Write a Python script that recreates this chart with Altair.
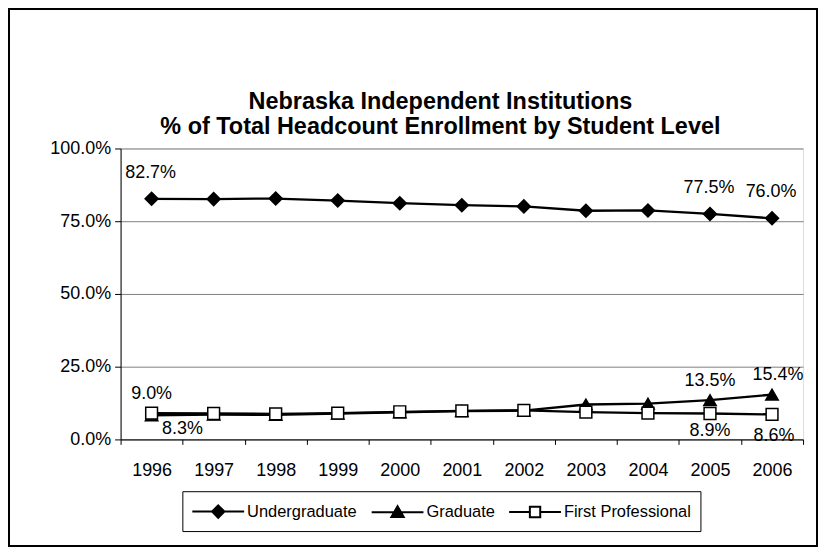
import altair as alt
import pandas as pd

years = ["1996", "1997", "1998", "1999", "2000", "2001", "2002", "2003", "2004", "2005", "2006"]
series_names = ["Undergraduate", "Graduate", "First Professional"]
undergraduate = [82.7, 82.6, 82.8, 82.1, 81.2, 80.5, 80.1, 78.6, 78.7, 77.5, 76.0]
graduate = [8.3, 8.5, 8.4, 8.9, 9.3, 9.7, 9.9, 12.0, 12.3, 13.5, 15.4]
first_professional = [9.0, 8.9, 8.8, 9.0, 9.5, 9.8, 10.0, 9.4, 9.0, 8.9, 8.6]
y_ticks = [0.0, 0.25, 0.5, 0.75, 1.0]

title_lines = ["Nebraska Independent Institutions",
               "% of Total Headcount Enrollment by Student Level"]

# which points carry a data label, grouped by where the label sits
labels_above = [("Undergraduate", "1996"), ("Undergraduate", "2005"), ("Undergraduate", "2006")]
labels_above_near = [("Graduate", "2005"), ("First Professional", "1996")]
labels_above_near_right = [("Graduate", "2006")]
labels_below = [("First Professional", "2005")]
labels_below_far = [("First Professional", "2006")]
labels_below_right = [("Graduate", "1996")]

FONT = "Liberation Sans"
FS = 18

placements = [("above", labels_above), ("above_near", labels_above_near),
              ("above_near_right", labels_above_near_right), ("below", labels_below),
              ("below_far", labels_below_far), ("below_right", labels_below_right)]

rows = []
for name, vals in zip(series_names, [undergraduate, graduate, first_professional]):
    for yr, v in zip(years, vals):
        place = "none"
        for pname, plist in placements:
            if (name, yr) in plist:
                place = pname
        rows.append({"series": name, "year": yr, "value": v / 100.0,
                     "label": f"{v:.1f}%", "place": place})
df = pd.DataFrame(rows)

W, H = 685, 292

x_enc = alt.X("year:N", sort=years,
              scale=alt.Scale(type="band", paddingInner=0, paddingOuter=0),
              axis=alt.Axis(title=None, tickBand="extent", labelAngle=0,
                            labelFont=FONT, labelFontSize=FS, labelColor="black",
                            domainColor="black", tickColor="black", tickSize=5,
                            labelPadding=17, grid=False))
y_enc = alt.Y("value:Q", scale=alt.Scale(domain=[0, 1], nice=False),
              axis=alt.Axis(title=None, values=y_ticks, format=".1%",
                            labelFont=FONT, labelFontSize=FS, labelColor="black",
                            domainColor="black", tickColor="black", tickSize=6,
                            labelPadding=4, grid=True, gridColor="#808080",
                            gridWidth=1))

base = alt.Chart(df)

lines = base.mark_line(color="black", strokeWidth=2.3).encode(
    x=x_enc, y=y_enc, detail="series:N")

points = base.mark_point(filled=True, stroke="black", strokeWidth=1.5, opacity=1).encode(
    x=alt.X("year:N", sort=years),
    y="value:Q",
    shape=alt.Shape("series:N", sort=series_names,
                    scale=alt.Scale(domain=series_names,
                                    range=["diamond", "triangle-up", "square"]),
                    legend=None),
    fill=alt.Fill("series:N", sort=series_names,
                  scale=alt.Scale(domain=series_names, range=["black", "black", "white"]),
                  legend=None),
    size=alt.Size("series:N", sort=series_names,
                  scale=alt.Scale(domain=series_names, range=[170, 140, 110]),
                  legend=None),
)

def text_layer(place, dx, dy):
    return base.transform_filter(alt.datum.place == place).mark_text(
        font=FONT, fontSize=FS, color="black", dx=dx, dy=dy, baseline="middle",
        align="center").encode(x=alt.X("year:N", sort=years), y="value:Q", text="label:N")

text_layers = [
    text_layer("above", -1, -26),
    text_layer("above_near", 0, -19),
    text_layer("above_near_right", 6, -20),
    text_layer("below", 0, 18),
    text_layer("below_far", 2, 22),
    text_layer("below_right", 31, 14),
]

legend_paths = [
    "M-2.6,0H2.6M0,-0.62L0.62,0L0,0.62L-0.62,0Z",
    "M-2.6,0H2.6M0,-0.6L0.62,0.5L-0.62,0.5Z",
    "M-2.6,0H-0.52M0.52,0H2.6M-0.52,-0.52H0.52V0.52H-0.52Z",
]

legend_cfg = dict(title=None, orient="none", legendX=62, legendY=344,
                  direction="horizontal", columns=3,
                  symbolSize=400, symbolOpacity=1,
                  symbolStrokeColor="black", symbolStrokeWidth=2,
                  symbolOffset=16, labelOffset=18,
                  columnPadding=10, padding=9,
                  strokeColor="black", fillColor="white",
                  labelFont=FONT, labelFontSize=16.5, labelColor="black")

legend_layer = base.mark_point(opacity=0, filled=True, strokeWidth=2).encode(
    x=alt.X("year:N", sort=years),
    y="value:Q",
    shape=alt.Shape("series:N", sort=series_names,
                    scale=alt.Scale(domain=series_names, range=legend_paths),
                    legend=alt.Legend(**legend_cfg)),
    fill=alt.Fill("series:N", sort=series_names,
                  scale=alt.Scale(domain=series_names, range=["black", "black", "white"]),
                  legend=alt.Legend(**legend_cfg)),
    stroke=alt.Stroke("series:N", sort=series_names,
                      scale=alt.Scale(domain=series_names, range=["black", "black", "black"]),
                      legend=alt.Legend(**legend_cfg)),
)

title_layer = alt.Chart(alt.Data(values=[{"t": "\n".join(title_lines)}])).mark_text(
    font=FONT, fontSize=23.5, fontWeight="bold", color="black", align="center",
    baseline="middle", lineBreak="\n", lineHeight=25).encode(
    x=alt.value(321), y=alt.value(-47), text="t:N")

frame = alt.Chart(alt.Data(values=[{}])).mark_rect(
    fillOpacity=0, stroke="black", strokeWidth=2).encode(
    x=alt.value(-112), x2=alt.value(699), y=alt.value(-140), y2=alt.value(399))

chart = alt.layer(frame, lines, points, *text_layers, legend_layer, title_layer).resolve_scale(
    shape="independent", fill="independent", size="independent", stroke="independent"
).properties(
    width=W, height=H,
    autosize=alt.AutoSizeParams(type="none"),
    padding={"left": 113, "top": 140, "right": 16, "bottom": 111},
).configure_view(stroke="#808080", strokeWidth=1).configure(background="white")

chart.save("out.html", embed_options={"renderer": "svg", "actions": False})
